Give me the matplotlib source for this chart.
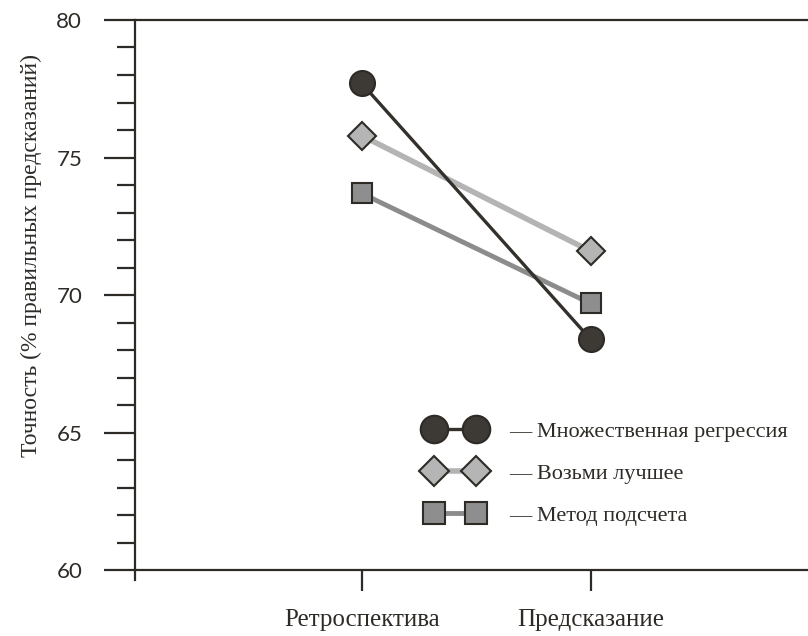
import matplotlib.pyplot as plt
from matplotlib.ticker import MultipleLocator

# data
categories = ['Ретроспектива', 'Предсказание']
regression = [77.7, 68.4]
take_best = [75.8, 71.6]
tallying = [73.7, 69.7]
labels = ['— Множественная регрессия', '— Возьми лучшее', '— Метод подсчета']

ink = '#2e2b26'
serif = ['Liberation Serif', 'DejaVu Serif']
plt.rcParams['font.family'] = serif

fig = plt.figure(figsize=(8.08, 6.36), dpi=100)
ax = fig.add_axes([0.167, 0.088, 0.833, 0.8806])

x = [0, 1]
ax.plot(x, regression, color='#34312c', lw=2.4, marker='o', ms=18,
        mfc='#3d3a35', mec=ink, mew=1.5, label=labels[0], zorder=5)
ax.plot(x, take_best, color='#b4b4b4', lw=4, marker='D', ms=14,
        mfc='#b5b5b5', mec=ink, mew=1.5, label=labels[1], zorder=3)
ax.plot(x, tallying, color='#8c8c8c', lw=3.5, marker='s', ms=15,
        mfc='#8e8e8e', mec=ink, mew=1.5, label=labels[2], zorder=4)

ax.set_xlim(-0.99, 1.95)
ax.set_ylim(59.65, 80)
ax.yaxis.set_major_locator(MultipleLocator(5))
ax.yaxis.set_minor_locator(MultipleLocator(1))
ax.tick_params(axis='y', which='major', length=22, width=1.6, color=ink,
               labelsize=16, labelcolor=ink, pad=16)
ax.tick_params(axis='y', which='minor', length=13, width=1.6, color=ink)
ax.tick_params(axis='x', length=15, width=1.6, color=ink, pad=13,
               labelsize=18, labelcolor=ink)
ax.set_xticks(x, categories, fontfamily=serif, fontsize=18)
for t in ax.get_yticklabels():
    t.set_fontfamily(['Lato', 'DejaVu Sans'])

ax.spines['right'].set_visible(False)
ax.spines['bottom'].set_position(('data', 60))
for s in ['left', 'top', 'bottom']:
    ax.spines[s].set_linewidth(1.6)
    ax.spines[s].set_color(ink)

ax.set_ylabel('Точность (% правильных предсказаний)', fontfamily=serif,
              fontsize=17, color=ink)
ax.yaxis.set_label_coords(-0.138, 0.58)

leg = ax.legend(loc='center left', bbox_to_anchor=(0.405, 0.19), frameon=False,
                numpoints=2, handlelength=2.5, handletextpad=1.15,
                labelspacing=0.95, markerscale=1.1,
                prop={'family': serif, 'size': 16})
for t in leg.get_texts():
    t.set_color(ink)

fig.savefig('out.png', dpi=100, facecolor='white')
